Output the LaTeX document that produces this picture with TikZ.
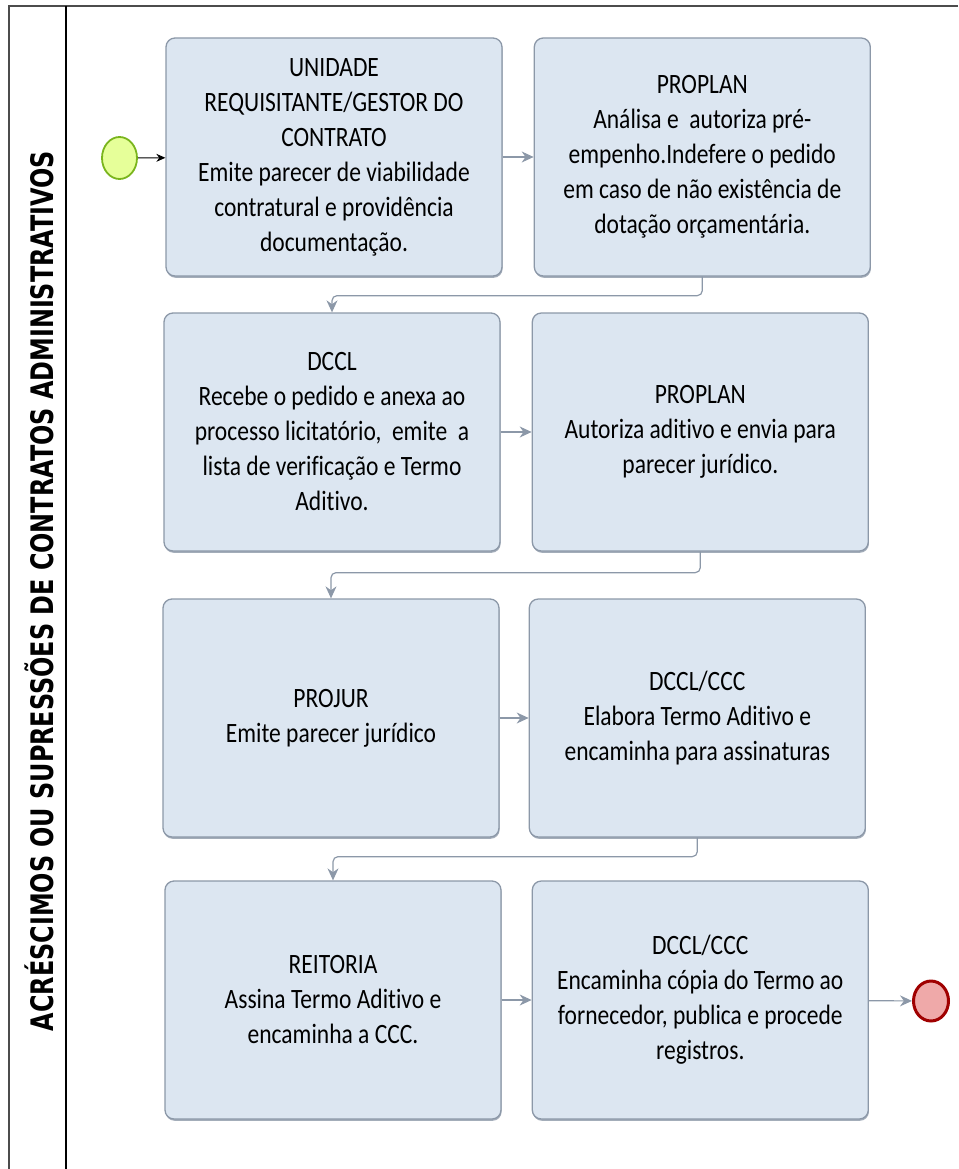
\documentclass[tikz,border=0pt]{standalone}
\usepackage{fontspec}
\setmainfont{Carlito}[FakeStretch=0.84, Ligatures=NoCommon]
\newfontfamily\lanefont{DejaVu Sans}[FakeStretch=0.77]
\usepackage{xcolor}
\usepackage{tikz}
\usetikzlibrary{arrows.meta,positioning,shapes.geometric,shadows}

\definecolor{boxfill}{RGB}{220,230,241}
\definecolor{boxline}{RGB}{140,152,168}
\definecolor{startfill}{RGB}{230,255,153}
\definecolor{startline}{RGB}{122,181,29}
\definecolor{endfill}{RGB}{239,169,169}
\definecolor{endline}{RGB}{160,0,0}

\begin{document}
\begin{tikzpicture}[x=1pt, y=-1pt,
  task/.style={draw=boxline, line width=1.3pt, rounded corners=9pt, fill=boxfill, align=center,
    minimum width=336pt, minimum height=238pt, inner sep=0pt,
    font=\fontsize{28}{35}\selectfont,
    drop shadow={shadow xshift=0.6pt, shadow yshift=-1.8pt, fill=boxline, opacity=0.8}},
  flow/.style={-{Stealth[length=12pt, width=11pt]}, draw=boxline, line width=1.2pt, rounded corners=5pt},
  startev/.style={ellipse, draw=startline, line width=1.8pt, fill=startfill, minimum width=35pt, minimum height=42pt},
  endev/.style={ellipse, draw=endline, line width=3pt, fill=endfill, minimum width=35pt, minimum height=40pt}
]
\useasboundingbox (0,0) rectangle (958,1169);
% pool / lane
\draw[line width=1.2pt, black!70] (958,6) -- (9,6) -- (9,1169);
\draw[line width=1.2pt] (66,6) -- (66,1169);
\node[rotate=90, font=\lanefont\bfseries\fontsize{31}{36}\selectfont] (lane) at (39,591)
  {ACRÉSCIMOS OU SUPRESSÕES DE CONTRATOS ADMINISTRATIVOS};

% tasks
\node[task] (unid) at (334,157) {UNIDADE\\REQUISITANTE/GESTOR DO\\CONTRATO\\Emite parecer de viabilidade\\contratural e providência\\documentação.};
\node[task, right=31pt of unid] (proplanA) {PROPLAN\\Análisa e\ \ autoriza pré-\\empenho.Indefere o pedido\\em caso de não existência de\\dotação orçamentária.};
\node[task] (dccl) at (332,432) {DCCL\\Recebe o pedido e anexa ao\\processo licitatório,\ \ emite\ \ a\\lista de verificação e Termo\\Aditivo.};
\node[task, right=31pt of dccl] (proplanB) {PROPLAN\\Autoriza aditivo e envia para\\parecer jurídico.};
\node[task] (projur) at (331,718) {PROJUR\\Emite parecer jurídico};
\node[task, right=29pt of projur] (elabora) {DCCL/CCC\\Elabora Termo Aditivo e\\encaminha para assinaturas};
\node[task] (reitoria) at (333,1000) {REITORIA\\Assina Termo Aditivo e\\encaminha a CCC.};
\node[task, right=30pt of reitoria] (registro) {DCCL/CCC\\Encaminha cópia do Termo ao\\fornecedor, publica e procede\\registros.};

% events
\node[startev] (start) at (119.5,158) {};
\node[endev] (fim) at (931,1001) {};

% connectors
\draw[-{Stealth[length=9pt, width=8pt]}, line width=1pt] (start) -- (unid);
\draw[flow] (unid) -- (proplanA);
\draw[flow] (proplanA.south) -- ++(0,19) -| (dccl.north);
\draw[flow] (dccl) -- (proplanB);
\draw[flow] (proplanB.south) -- ++(0,21) -| (projur.north);
\draw[flow] (projur) -- (elabora);
\draw[flow] (elabora.south) -- ++(0,19) -| (reitoria.north);
\draw[flow] (reitoria) -- (registro);
\draw[flow] (registro) -- (fim);
\end{tikzpicture}
\end{document}
